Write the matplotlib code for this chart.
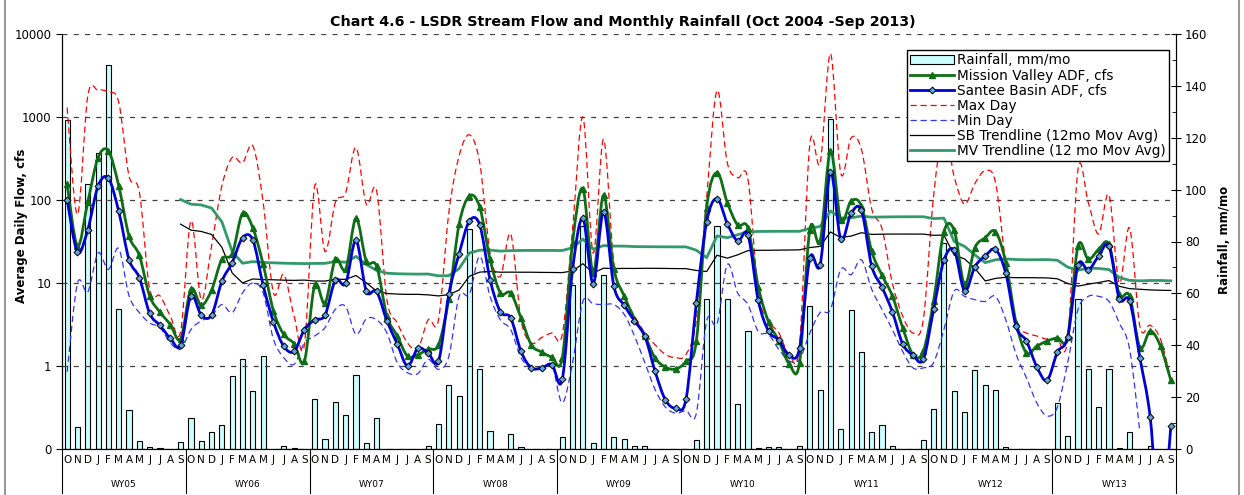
import numpy as np
import pandas as pd
import matplotlib
matplotlib.use("Agg")
import matplotlib.pyplot as plt
import matplotlib.transforms as mtransforms
from matplotlib.path import Path
from matplotlib.patches import PathPatch, Patch
from matplotlib.lines import Line2D
from matplotlib.ticker import FixedLocator, NullLocator, MultipleLocator

# water years Oct 2004 - Sep 2013, monthly
water_years = ['WY05', 'WY06', 'WY07', 'WY08', 'WY09', 'WY10', 'WY11', 'WY12', 'WY13']
month_letters = list("ONDJFMAMJJAS")

rain = [127, 8.5, 102, 114, 148, 54, 15.2, 3.2, 0.6, 0.4, 0, 2.7,
        12.0, 3.0, 6.4, 9.1, 28.1, 34.7, 22.5, 35.8, 0, 1.0, 0.4, 0,
        19.3, 4.0, 18.0, 13.3, 28.4, 2.3, 12.0, 0, 0, 0, 0, 1.3,
        9.7, 24.6, 20.3, 85, 30.9, 6.8, 0, 5.8, 0.6, 0, 0, 0,
        4.6, 63.4, 86, 2.3, 66.9, 4.6, 3.9, 1.3, 1.0, 0, 0, 0,
        0, 3.3, 57.9, 86, 57.9, 17.5, 45.4, 0.4, 0.6, 0.6, 0, 1.0,
        55.3, 22.7, 127.2, 7.9, 53.4, 37.3, 6.6, 9.1, 1.0, 0, 0, 3.3,
        15.6, 79.5, 22.3, 14.2, 30.6, 24.8, 22.9, 0.6, 0, 0, 0, 0,
        17.8, 5.1, 57.9, 30.9, 16.1, 30.9, 0.4, 6.6, 0, 1.3, 0, 0]

mission_valley = [155, 27.9, 95, 324, 390, 148, 36.8, 21.5, 6.95, 4.46, 3.16, 2.12,
                  8.4, 5.4, 8.2, 19.3, 22.5, 69, 46, 16.8, 4.6, 2.4, 1.86, 1.14,
                  9.4, 5.7, 19.3, 14.6, 60, 18.4, 16, 4.0, 2.3, 1.31, 1.37, 1.6,
                  1.8, 6.5, 51, 112, 82, 19.3, 7.6, 7.6, 3.8, 1.8, 1.47, 1.28,
                  1.25, 30.6, 137, 13.3, 114, 14.6, 7.0, 3.7, 2.3, 1.25, 0.97, 0.92,
                  1.14, 2.0, 81, 214, 93, 50, 46, 9.0, 3.4, 2.0, 1.06, 1.09,
                  44, 32, 390, 57, 97, 85, 24, 12.4, 7.0, 2.9, 1.37, 1.5,
                  6.1, 41.6, 43, 9.6, 26.6, 35, 41.6, 17.6, 3.3, 1.44, 1.73, 2.0,
                  2.19, 2.25, 27.9, 19.3, 25.4, 29.3, 7.3, 7.0, 1.66, 2.63, 1.73, 0.67]

santee = [100, 23.6, 44, 148, 183, 73, 19.1, 11.6, 4.3, 3.08, 2.16, 1.77,
          7.0, 4.1, 4.1, 10.5, 17.6, 35, 33, 9.4, 3.4, 1.73, 1.5, 2.75,
          3.6, 4.1, 10.8, 9.9, 32.6, 8.0, 7.9, 3.5, 1.85, 1.0, 1.63, 1.44,
          1.14, 7.3, 22.5, 56, 50, 11, 4.5, 3.8, 1.5, 0.95, 0.95, 1.04,
          0.69, 14.6, 60, 9.8, 72, 9.2, 5.4, 3.5, 2.3, 0.86, 0.39, 0.31,
          0.40, 5.8, 55, 104, 52, 32, 38, 6.2, 2.63, 2.05, 1.35, 1.63,
          20, 16.6, 218, 33.6, 69, 75, 16, 8.9, 4.5, 1.85, 1.35, 1.2,
          4.8, 18.8, 24.7, 8.0, 15.7, 21.1, 25.4, 13.1, 3.0, 2.0, 0.98, 0.67,
          1.47, 2.25, 16.3, 14.3, 21.1, 27.9, 6.5, 6.1, 1.25, 0.24, 0.01, 0.19]

max_day = [1300, 67, 1800, 2100, 2000, 1500, 195, 125, 8.4, 7.0, 4.0, 2.6,
           56, 6.3, 28, 148, 325, 280, 450, 94, 7.6, 12.7, 4.0, 1.8,
           148, 24, 93, 123, 430, 89, 129, 6.3, 3.3, 1.9, 1.6, 3.6,
           3.6, 70, 340, 610, 280, 23, 12, 39, 3.6, 1.9, 2.2, 2.5,
           2.4, 45, 1000, 23, 540, 17.5, 7.0, 4.0, 2.5, 1.8, 1.38, 1.26,
           1.38, 3.6, 107, 2080, 280, 186, 178, 7.6, 3.5, 2.5, 1.38, 1.8,
           470, 280, 5800, 210, 560, 410, 78, 45, 10, 4.0, 2.5, 3.6,
           112, 700, 190, 89, 158, 225, 163, 17, 3.3, 2.5, 2.3, 2.1,
           2.1, 2.1, 235, 93, 39, 115, 10, 46, 3.0, 3.1, 2.1, 0.69]

min_day = [0.85, 9.9, 7.8, 23, 14.6, 26, 7.0, 4.4, 3.3, 2.9, 1.9, 1.6,
           2.75, 3.5, 4.0, 5.5, 4.4, 7.6, 10, 7.6, 2.1, 1.26, 1.05, 1.9,
           2.3, 2.9, 4.8, 5.2, 2.4, 3.7, 3.6, 2.5, 1.1, 0.83, 0.81, 1.2,
           0.91, 1.3, 6.9, 7.3, 21, 6.9, 3.6, 2.75, 1.26, 0.95, 0.91, 1.03,
           0.36, 1.1, 6.0, 5.6, 5.5, 5.5, 4.2, 2.3, 1.1, 0.52, 0.32, 0.27,
           0.29, 0.27, 3.5, 3.2, 16.7, 7.6, 5.5, 2.6, 2.4, 1.58, 1.15, 1.2,
           2.5, 4.4, 4.8, 14.6, 12.6, 19, 8.4, 4.8, 2.75, 1.5, 0.95, 0.95,
           1.1, 2.75, 8, 6.9, 6.3, 6.0, 6.9, 3.6, 1.38, 0.72, 0.36, 0.25,
           0.32, 1.1, 4.8, 6.9, 6.9, 6.0, 3.3, 1.6, 0.16, np.nan, np.nan, np.nan]

x = np.arange(len(rain))
# 12 month moving average trendlines
sb_trend = pd.Series(santee).rolling(12).mean()
mv_trend = pd.Series(mission_valley).rolling(12).mean()

GREEN = '#0E6E16'
BLUE = '#0000D8'
TREND_GREEN = '#32996A'


def smooth_line(ax, xs, ys, **kw):
    # Excel style smoothed line: cubic Bezier through the points (in log space)
    xs = np.asarray(xs, float)
    ys = np.asarray(ys, float)
    ok = ~np.isnan(ys)
    xs, ly = xs[ok], np.log10(ys[ok])
    n = len(xs)
    verts = [(xs[0], 10 ** ly[0])]
    codes = [Path.MOVETO]
    for i in range(n - 1):
        a, b = max(i - 1, 0), min(i + 2, n - 1)
        c1x = xs[i] + (xs[i + 1] - xs[a]) / 6
        c1y = ly[i] + (ly[i + 1] - ly[a]) / 6
        c2x = xs[i + 1] - (xs[b] - xs[i]) / 6
        c2y = ly[i + 1] - (ly[b] - ly[i]) / 6
        verts += [(c1x, 10 ** c1y), (c2x, 10 ** c2y), (xs[i + 1], 10 ** ly[i + 1])]
        codes += [Path.CURVE4] * 3
    ax.add_patch(PathPatch(Path(verts, codes), fill=False, **kw))


fig = plt.figure(figsize=(12.44, 4.95), dpi=100)
ax = fig.add_axes([62 / 1244, 1 - 449 / 495, 1114 / 1244, 415 / 495])
ax2 = ax.twinx()
ax.set_zorder(ax2.get_zorder() + 1)
ax.patch.set_visible(False)

# rainfall bars (right axis)
ax2.bar(x, rain, width=0.5, color='#CCFFFF', edgecolor='black', linewidth=0.8)
ax2.set_ylim(0, 160)
ax2.yaxis.set_major_locator(MultipleLocator(20))
ax2.yaxis.set_minor_locator(MultipleLocator(10))
ax2.tick_params(axis='y', which='major', direction='inout', length=7, labelsize=8.5, pad=3)
ax2.tick_params(axis='y', which='minor', direction='in', length=3)

# flows (left, log axis)
ax.set_yscale('log')
ax.set_ylim(0.1, 10000)
ax.set_xlim(-0.5, len(rain) - 0.5)
ax.yaxis.set_major_locator(FixedLocator([0.1, 1, 10, 100, 1000, 10000]))
ax.yaxis.set_minor_locator(NullLocator())
ax.set_yticklabels(['0', '1', '10', '100', '1000', '10000'])
ax.tick_params(axis='y', direction='out', length=4, labelsize=8.5)
ax.set_axisbelow(True)
ax.yaxis.grid(True, linestyle=(0, (4, 5)), color='#404040', linewidth=0.9)

smooth_line(ax, x, max_day, edgecolor='red', linewidth=0.9, linestyle=(0, (5, 3)), zorder=3)
smooth_line(ax, x, min_day, edgecolor='#3333FF', linewidth=0.9, linestyle=(0, (5, 3)), zorder=3)
ax.plot(x, sb_trend, color='black', linewidth=0.9, zorder=4)
ax.plot(x, mv_trend, color=TREND_GREEN, linewidth=2, zorder=4)
smooth_line(ax, x, mission_valley, edgecolor=GREEN, linewidth=2, zorder=5)
ax.plot(x, mission_valley, linestyle='none', marker='^', markersize=5, color=GREEN, zorder=6)
smooth_line(ax, x, santee, edgecolor=BLUE, linewidth=2, zorder=7)
ax.plot(x, santee, linestyle='none', marker='D', markersize=3.5, markerfacecolor='#5BA3E6',
        markeredgecolor='black', markeredgewidth=0.7, zorder=8)

ax.spines['top'].set_visible(False)
ax2.spines['top'].set_visible(False)

# month letters and water year groups
ax.set_xticks(x)
ax.set_xticklabels(month_letters * len(water_years), fontsize=7.5)
ax.tick_params(axis='x', length=0, pad=4)
trans = mtransforms.blended_transform_factory(ax.transData, ax.transAxes)
for k, wy in enumerate(water_years):
    ax.text(12 * k + 5.5, -0.085, wy, transform=trans, ha='center', va='center', fontsize=6.5)
for k in range(len(water_years) + 1):
    xb = 12 * k - 0.5
    ax.plot([xb, xb], [0, -0.105], transform=trans, color='black', linewidth=0.8, clip_on=False)

handles = [Patch(facecolor='#CCFFFF', edgecolor='black', linewidth=0.8),
           Line2D([], [], color=GREEN, lw=2, marker='^', markersize=5),
           Line2D([], [], color=BLUE, lw=2, marker='D', markersize=3.5, markerfacecolor='#5BA3E6',
                  markeredgecolor='black', markeredgewidth=0.7),
           Line2D([], [], color='red', lw=0.9, linestyle=(0, (5, 3))),
           Line2D([], [], color='#3333FF', lw=0.9, linestyle=(0, (5, 3))),
           Line2D([], [], color='black', lw=0.9),
           Line2D([], [], color=TREND_GREEN, lw=2)]
labels = ['Rainfall, mm/mo', 'Mission Valley ADF, cfs', 'Santee Basin ADF, cfs', 'Max Day',
          'Min Day', 'SB Trendline (12mo Mov Avg)', 'MV Trendline (12 mo Mov Avg)']
leg = ax.legend(handles, labels, loc='upper left', bbox_to_anchor=(0.7585, 0.9614),
                borderaxespad=0, fontsize=9.8, handlelength=3.2, handletextpad=0.25,
                labelspacing=0.08, borderpad=0.25, fancybox=False, framealpha=1,
                edgecolor='black')
leg.get_frame().set_linewidth(1)
leg.set_zorder(20)

fig.text(0.5008, 1 - 22 / 495, 'Chart 4.6 - LSDR Stream Flow and Monthly Rainfall (Oct 2004 -Sep 2013)',
         ha='center', va='center', fontsize=10.3, fontweight='bold')
fig.text(22 / 1244, 1 - 226 / 495, 'Average Daily Flow, cfs', rotation=90, ha='center', va='center',
         fontsize=8.5, fontweight='bold')
fig.text(1225 / 1244, 1 - 240 / 495, 'Rainfall, mm/mo', rotation=90, ha='center', va='center',
         fontsize=8.5, fontweight='bold')

# outer chart frame
for xf in (5 / 1244, 1239 / 1244):
    fig.add_artist(Line2D([xf, xf], [0, 1], color='#999999', linewidth=1.5))

fig.savefig('out.png', dpi=100)
